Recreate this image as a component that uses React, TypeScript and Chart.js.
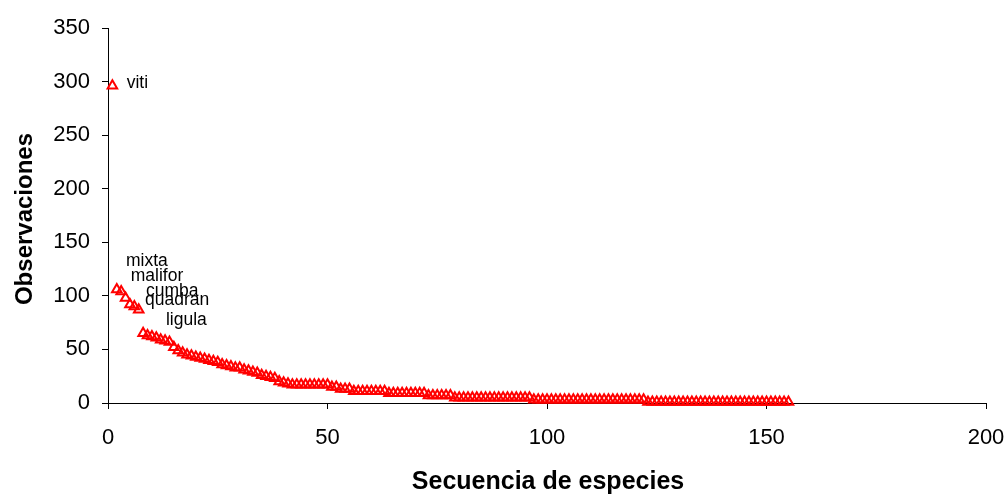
import { useEffect, useRef } from "react";
import { Chart, registerables } from "chart.js";

Chart.register(...registerables);

// Observations per species, in rank order (species sequence 1..155)
const observations: number[] = [
  296,
  106, 104, 98, 92, 90, 87,
  65, 63, 62, 61, 59, 58, 57,
  52, 49, 47, 45, 44, 43,
  42, 41, 40, 39, 38, 36, 35, 34, 33, 33,
  31, 30, 29, 28, 26, 25, 24, 23, 20, 19, 18,
  17, 17, 17, 17, 17, 17, 17, 17, 17,
  15, 15,
  13, 13, 13,
  11, 11, 11, 11, 11, 11, 11, 11,
  9, 9, 9, 9, 9, 9, 9, 9, 9,
  7, 7, 7, 7, 7, 7,
  5, 5, 5, 5, 5, 5, 5, 5, 5, 5, 5, 5, 5, 5, 5, 5, 5, 5,
  3, 3, 3, 3, 3, 3, 3, 3, 3, 3, 3, 3, 3, 3, 3, 3, 3, 3, 3, 3, 3, 3, 3, 3, 3, 3,
  1, 1, 1, 1, 1, 1, 1, 1, 1, 1, 1, 1, 1, 1, 1, 1, 1, 1, 1, 1, 1, 1, 1, 1, 1, 1, 1, 1, 1, 1, 1, 1, 1,
];

const xTicks: number[] = [0, 50, 100, 150, 200];
const yTicks: number[] = [0, 50, 100, 150, 200, 250, 300, 350];

// Species name labels, placed in data units (left edge, baseline)
const labelNames: string[] = ["viti", "mixta", "malifor", "cumba", "quadran", "ligula"];
const labelX: number[] = [4.26, 4.1, 5.17, 8.66, 8.43, 13.2];
const labelY: number[] = [294, 127.9, 114.3, 99.9, 91.5, 72.8];

const xTitle = "Secuencia de especies";
const yTitle = "Observaciones";

const FAMILY = "'Liberation Sans', Arial, sans-serif";

const textPlugin = {
  id: "customTexts",
  afterDatasetsDraw(chart: any) {
    const { ctx, scales, chartArea } = chart;
    const x = scales.x;
    const y = scales.y;
    ctx.save();
    ctx.fillStyle = "#000";
    ctx.font = `17.5px ${FAMILY}`;
    ctx.textAlign = "left";
    ctx.textBaseline = "alphabetic";
    labelNames.forEach((name, i) => {
      ctx.fillText(name, x.getPixelForValue(labelX[i]), y.getPixelForValue(labelY[i]));
    });

    ctx.font = `bold 25px ${FAMILY}`;
    ctx.textAlign = "center";
    ctx.textBaseline = "alphabetic";
    ctx.fillText(xTitle, (chartArea.left + chartArea.right) / 2 + 1, chart.height - 6);

    ctx.font = `bold 24px ${FAMILY}`;
    ctx.translate(32, (chartArea.top + chartArea.bottom) / 2 + 3.5);
    ctx.rotate(-Math.PI / 2);
    ctx.fillText(yTitle, 0, 0);
    ctx.restore();
  },
};

export default function App() {
  const ref = useRef<HTMLCanvasElement | null>(null);

  useEffect(() => {
    const canvas = ref.current;
    if (!canvas) return;
    const chart = new Chart(canvas, {
      type: "scatter",
      data: {
        datasets: [
          {
            data: observations.map((v, i) => ({ x: i + 1, y: v })),
            pointStyle: "triangle",
            pointRadius: 5.5,
            borderColor: "#FF0000",
            backgroundColor: "rgba(0,0,0,0)",
            borderWidth: 2,
            showLine: false,
            clip: false as any,
          },
        ],
      },
      options: {
        animation: false,
        responsive: false,
        maintainAspectRatio: false,
        layout: { padding: { top: 28, right: 22, left: 0, bottom: 0 } },
        plugins: { legend: { display: false }, tooltip: { enabled: false } },
        scales: {
          x: {
            type: "linear",
            min: 0,
            max: 200,
            afterBuildTicks: (s: any) => {
              s.ticks = xTicks.map((v) => ({ value: v }));
            },
            afterFit: (s: any) => {
              s.height = 92;
              s.paddingLeft = 0;
              s.paddingRight = 0;
            },
            grid: { display: true, drawOnChartArea: false, drawTicks: true, tickLength: 6, color: "#000" },
            border: { display: true, color: "#000", width: 1 },
            ticks: { color: "#000", font: { size: 22, family: FAMILY }, padding: 16, maxRotation: 0 },
          },
          y: {
            type: "linear",
            min: 0,
            max: 350,
            afterBuildTicks: (s: any) => {
              s.ticks = yTicks.map((v) => ({ value: v }));
            },
            afterFit: (s: any) => {
              s.width = 108;
              s.paddingTop = 0;
              s.paddingBottom = 0;
            },
            grid: { display: true, drawOnChartArea: false, drawTicks: true, tickLength: 6, color: "#000" },
            border: { display: true, color: "#000", width: 1 },
            ticks: { color: "#000", font: { size: 22, family: FAMILY }, padding: 12 },
          },
        },
      },
      plugins: [textPlugin],
    });
    return () => chart.destroy();
  }, []);

  return (
    <div style={{ position: "absolute", left: 0, top: 0, width: 1008, height: 495, background: "#fff" }}>
      <canvas ref={ref} width={1008} height={495} style={{ display: "block", width: 1008, height: 495 }} />
    </div>
  );
}
